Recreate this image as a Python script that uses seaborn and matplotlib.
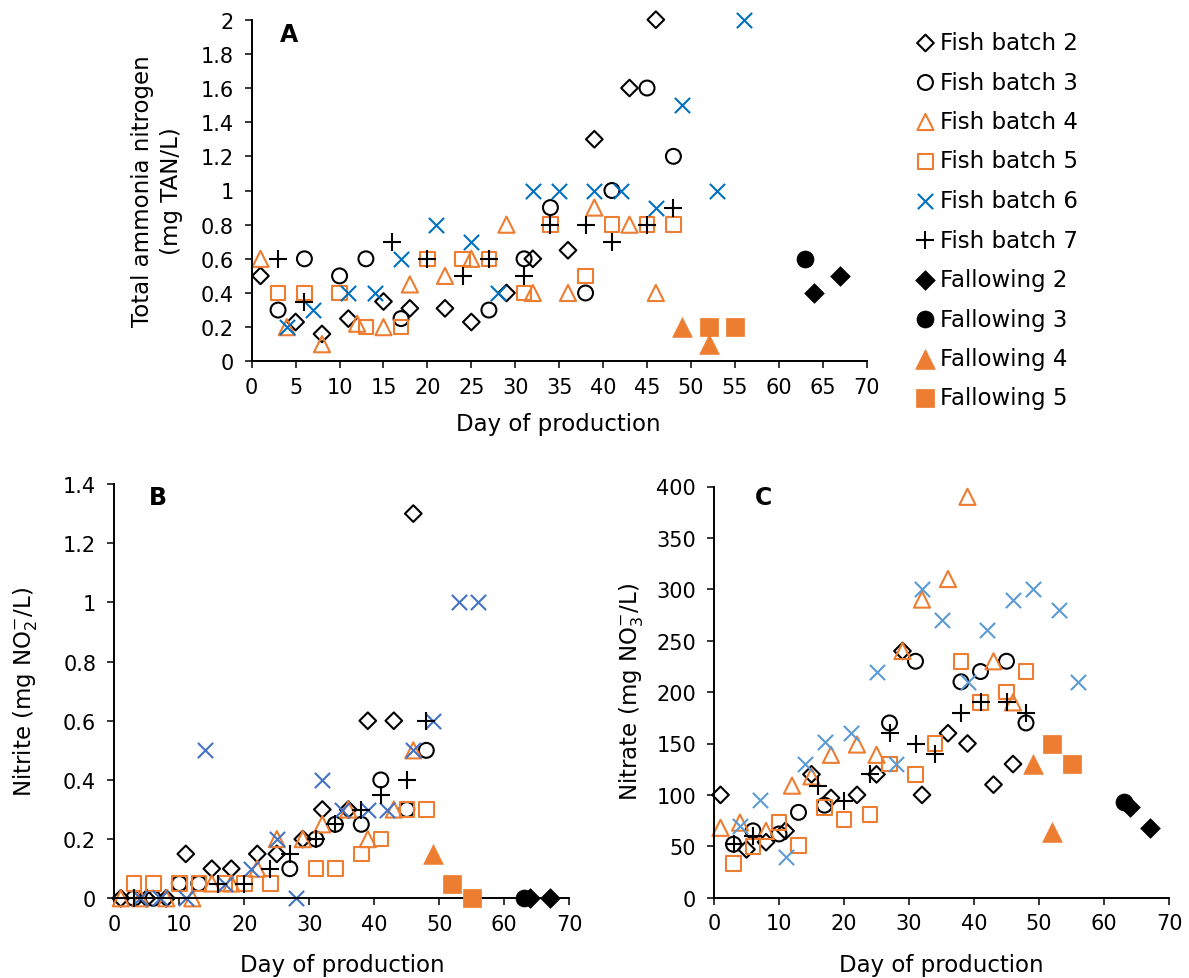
import matplotlib
matplotlib.use("Agg")
import matplotlib.pyplot as plt
import seaborn as sns
import pandas as pd
from matplotlib.ticker import FuncFormatter, MultipleLocator

sns.set_theme(style="ticks")
plt.rcParams['font.family'] = ['DejaVu Sans']
plt.rcParams['text.color'] = 'black'
plt.rcParams['axes.labelcolor'] = 'black'
plt.rcParams['xtick.color'] = 'black'
plt.rcParams['ytick.color'] = 'black'

# ---------------- Panel A: Total ammonia nitrogen (mg TAN/L) ----------------
A_fb2_day = [1, 5, 8, 11, 15, 18, 22, 25, 29, 32, 36, 39, 43, 46]
A_fb2_val = [0.5, 0.23, 0.16, 0.25, 0.35, 0.31, 0.31, 0.23, 0.4, 0.6, 0.65, 1.3, 1.6, 2.0]
A_fb3_day = [3, 6, 10, 13, 17, 27, 31, 34, 38, 41, 45, 48]
A_fb3_val = [0.3, 0.6, 0.5, 0.6, 0.25, 0.3, 0.6, 0.9, 0.4, 1.0, 1.6, 1.2]
A_fb4_day = [1, 4, 8, 12, 15, 18, 22, 25, 29, 32, 36, 39, 43, 46]
A_fb4_val = [0.6, 0.2, 0.1, 0.22, 0.2, 0.45, 0.5, 0.6, 0.8, 0.4, 0.4, 0.9, 0.8, 0.4]
A_fb5_day = [3, 6, 10, 13, 17, 20, 24, 27, 31, 34, 38, 41, 45, 48]
A_fb5_val = [0.4, 0.4, 0.4, 0.2, 0.2, 0.6, 0.6, 0.6, 0.4, 0.8, 0.5, 0.8, 0.8, 0.8]
A_fb6_day = [4, 7, 11, 14, 17, 21, 25, 28, 32, 35, 39, 42, 46, 49, 53, 56]
A_fb6_val = [0.2, 0.3, 0.4, 0.4, 0.6, 0.8, 0.7, 0.4, 1.0, 1.0, 1.0, 1.0, 0.9, 1.5, 1.0, 2.0]
A_fb7_day = [3, 6, 16, 20, 24, 27, 31, 34, 38, 41, 45, 48]
A_fb7_val = [0.6, 0.35, 0.7, 0.6, 0.5, 0.6, 0.5, 0.8, 0.8, 0.7, 0.8, 0.9]
A_f2_day, A_f2_val = [64, 67], [0.4, 0.5]
A_f3_day, A_f3_val = [63], [0.6]
A_f4_day, A_f4_val = [49, 52], [0.2, 0.1]
A_f5_day, A_f5_val = [52, 55], [0.2, 0.2]

# ---------------- Panel B: Nitrite (mg NO2-/L) ----------------
B_fb2_day = [1, 5, 8, 11, 15, 18, 22, 25, 29, 32, 36, 39, 43, 46]
B_fb2_val = [0, 0, 0, 0.15, 0.1, 0.1, 0.15, 0.15, 0.2, 0.3, 0.3, 0.6, 0.6, 1.3]
B_fb3_day = [3, 6, 10, 13, 27, 31, 34, 38, 41, 45, 48]
B_fb3_val = [0, 0, 0.05, 0.05, 0.1, 0.2, 0.25, 0.25, 0.4, 0.3, 0.5]
B_fb4_day = [1, 4, 8, 12, 15, 18, 22, 25, 29, 32, 36, 39, 43, 46]
B_fb4_val = [0, 0, 0, 0, 0.05, 0.05, 0.1, 0.2, 0.2, 0.25, 0.3, 0.2, 0.3, 0.5]
B_fb5_day = [3, 6, 10, 13, 17, 20, 24, 31, 34, 38, 41, 45, 48]
B_fb5_val = [0.05, 0.05, 0.05, 0.05, 0.05, 0.05, 0.05, 0.1, 0.1, 0.15, 0.2, 0.3, 0.3]
B_fb6_day = [4, 7, 11, 14, 17, 21, 25, 28, 32, 35, 39, 42, 46, 49, 53, 56]
B_fb6_val = [0, 0, 0, 0.5, 0.05, 0.1, 0.2, 0, 0.4, 0.3, 0.3, 0.3, 0.5, 0.6, 1.0, 1.0]
B_fb7_day = [3, 16, 20, 24, 27, 31, 34, 38, 41, 45, 48]
B_fb7_val = [0, 0.05, 0.05, 0.1, 0.15, 0.2, 0.25, 0.3, 0.35, 0.4, 0.6]
B_f2_day, B_f2_val = [64, 67], [0, 0]
B_f3_day, B_f3_val = [63], [0]
B_f4_day, B_f4_val = [49], [0.15]
B_f5_day, B_f5_val = [52, 55], [0.05, 0]

# ---------------- Panel C: Nitrate (mg NO3-/L) ----------------
C_fb2_day = [1, 5, 8, 11, 15, 18, 22, 25, 29, 32, 36, 39, 43, 46]
C_fb2_val = [100, 47, 54, 65, 120, 97, 100, 120, 240, 100, 160, 150, 110, 130]
C_fb3_day = [3, 6, 10, 13, 17, 27, 31, 38, 41, 45, 48]
C_fb3_val = [52, 65, 62, 83, 90, 170, 230, 210, 220, 230, 170]
C_fb4_day = [1, 4, 8, 12, 15, 18, 22, 25, 29, 32, 36, 39, 43, 46]
C_fb4_val = [68, 73, 65, 109, 118, 139, 149, 139, 240, 290, 310, 390, 230, 190]
C_fb5_day = [3, 6, 10, 13, 17, 20, 24, 27, 31, 34, 38, 41, 45, 48]
C_fb5_val = [33, 50, 73, 51, 88, 76, 81, 130, 120, 150, 230, 190, 200, 220]
C_fb6_day = [4, 7, 11, 14, 17, 21, 25, 28, 32, 35, 39, 42, 46, 49, 53, 56]
C_fb6_val = [70, 95, 40, 130, 151, 160, 220, 130, 300, 270, 210, 260, 290, 300, 280, 210]
C_fb7_day = [3, 6, 16, 20, 24, 27, 31, 34, 38, 41, 45, 48]
C_fb7_val = [52, 60, 109, 94, 120, 160, 150, 140, 180, 190, 190, 180]
C_f2_day, C_f2_val = [64, 67], [88, 68]
C_f3_day, C_f3_val = [63], [93]
C_f4_day, C_f4_val = [49, 52], [130, 64]
C_f5_day, C_f5_val = [52, 55], [150, 130]

series_labels = ["Fish batch 2", "Fish batch 3", "Fish batch 4", "Fish batch 5",
                 "Fish batch 6", "Fish batch 7", "Fallowing 2", "Fallowing 3",
                 "Fallowing 4", "Fallowing 5"]

BLACK = "#000000"
ORANGE = "#ED7D31"

# (marker, size, filled)
styles = [("D", 72, False), ("o", 115, False), ("^", 135, False), ("s", 110, False),
          ("x", 120, None), ("+", 150, None), ("D", 100, True), ("o", 150, True),
          ("^", 200, True), ("s", 165, True)]


def colors_for(blue):
    return [BLACK, BLACK, ORANGE, ORANGE, blue, BLACK, BLACK, BLACK, ORANGE, ORANGE]


def draw_panel(ax, data, blue):
    cols = colors_for(blue)
    for (days, vals), lab, (mk, s, filled), c in zip(data, series_labels, styles, cols):
        df = pd.DataFrame({"day": days, "val": vals})
        if filled is None:
            sns.scatterplot(data=df, x="day", y="val", marker=mk, s=s, color=c,
                            linewidth=1.5, ax=ax, clip_on=False, label=lab, legend=False)
        elif filled:
            sns.scatterplot(data=df, x="day", y="val", marker=mk, s=s, color=c,
                            edgecolor=c, linewidth=0.5, ax=ax, clip_on=False,
                            label=lab, legend=False, zorder=3)
        else:
            sns.scatterplot(data=df, x="day", y="val", marker=mk, s=s, color=c,
                            facecolor="none", edgecolor=c, linewidth=1.5, ax=ax,
                            clip_on=False, label=lab, legend=False)


def style_axes(ax, xstep, ystep, ymax):
    ax.set_xlim(0, 70)
    ax.set_ylim(0, ymax)
    ax.xaxis.set_major_locator(MultipleLocator(xstep))
    ax.yaxis.set_major_locator(MultipleLocator(ystep))
    ax.yaxis.set_major_formatter(FuncFormatter(lambda v, _: f"{round(v, 6):g}"))
    ax.xaxis.set_major_formatter(FuncFormatter(lambda v, _: f"{round(v, 6):g}"))
    sns.despine(ax=ax)
    for sp in ("left", "bottom"):
        ax.spines[sp].set_linewidth(1.4)
        ax.spines[sp].set_color("black")
    ax.tick_params(axis="both", direction="out", length=5, width=1.1, color="black",
                   labelsize=15, labelcolor="black")
    ax.tick_params(axis="x", pad=6)
    ax.tick_params(axis="y", pad=8)
    ax.set_xlabel("")
    ax.set_ylabel("")
    ax.grid(False)
    ax.set_facecolor("white")


W, H = 1189, 979
fig = plt.figure(figsize=(W / 100, H / 100), dpi=100)
fig.patch.set_facecolor("white")

axA = fig.add_axes([251.7 / W, 1 - 362.3 / H, 615 / W, 341.6 / H])
axB = fig.add_axes([114.3 / W, 1 - 899.3 / H, 455 / W, 414.3 / H])
axC = fig.add_axes([714 / W, 1 - 898.7 / H, 455 / W, 411.2 / H])

dataA = [(A_fb2_day, A_fb2_val), (A_fb3_day, A_fb3_val), (A_fb4_day, A_fb4_val),
         (A_fb5_day, A_fb5_val), (A_fb6_day, A_fb6_val), (A_fb7_day, A_fb7_val),
         (A_f2_day, A_f2_val), (A_f3_day, A_f3_val), (A_f4_day, A_f4_val), (A_f5_day, A_f5_val)]
dataB = [(B_fb2_day, B_fb2_val), (B_fb3_day, B_fb3_val), (B_fb4_day, B_fb4_val),
         (B_fb5_day, B_fb5_val), (B_fb6_day, B_fb6_val), (B_fb7_day, B_fb7_val),
         (B_f2_day, B_f2_val), (B_f3_day, B_f3_val), (B_f4_day, B_f4_val), (B_f5_day, B_f5_val)]
dataC = [(C_fb2_day, C_fb2_val), (C_fb3_day, C_fb3_val), (C_fb4_day, C_fb4_val),
         (C_fb5_day, C_fb5_val), (C_fb6_day, C_fb6_val), (C_fb7_day, C_fb7_val),
         (C_f2_day, C_f2_val), (C_f3_day, C_f3_val), (C_f4_day, C_f4_val), (C_f5_day, C_f5_val)]

draw_panel(axA, dataA, "#0070C0")
draw_panel(axB, dataB, "#4472C4")
draw_panel(axC, dataC, "#5B9BD5")

style_axes(axA, 5, 0.2, 2)
style_axes(axB, 10, 0.2, 1.4)
style_axes(axC, 10, 50, 400)

LBL = 16.5
# x labels
fig.text(558 / W, 1 - 425 / H, "Day of production", ha="center", va="center", fontsize=LBL)
fig.text(342 / W, 1 - 966 / H, "Day of production", ha="center", va="center", fontsize=LBL)
fig.text(941 / W, 1 - 966 / H, "Day of production", ha="center", va="center", fontsize=LBL)
# y labels
fig.text(157 / W, 1 - 191 / H, "Total ammonia nitrogen\n(mg TAN/L)", ha="center", va="center",
         rotation=90, fontsize=LBL, linespacing=1.3, multialignment="center")
fig.text(26 / W, 1 - 692 / H, r"Nitrite (mg NO$_\mathregular{2}^\mathregular{-}$/L)", ha="center",
         va="center", rotation=90, fontsize=LBL)
fig.text(632 / W, 1 - 692 / H, r"Nitrate (mg NO$_\mathregular{3}^\mathregular{-}$/L)", ha="center",
         va="center", rotation=90, fontsize=LBL)
# panel letters
fig.text(289 / W, 1 - 35 / H, "A", ha="center", va="center", fontsize=17, fontweight="bold")
fig.text(158 / W, 1 - 498 / H, "B", ha="center", va="center", fontsize=17, fontweight="bold")
fig.text(763 / W, 1 - 498 / H, "C", ha="center", va="center", fontsize=17, fontweight="bold")

handles, labels = axA.get_legend_handles_labels()
fig.legend(handles, labels, loc="upper left", bbox_to_anchor=(914 / W, 1 - 32 / H),
           frameon=False, fontsize=LBL, handletextpad=0.15, labelspacing=0.72,
           handlelength=1.0, borderaxespad=0, borderpad=0, scatterpoints=1,
           labelcolor="black")

fig.savefig("out.png", dpi=100, facecolor="white")
